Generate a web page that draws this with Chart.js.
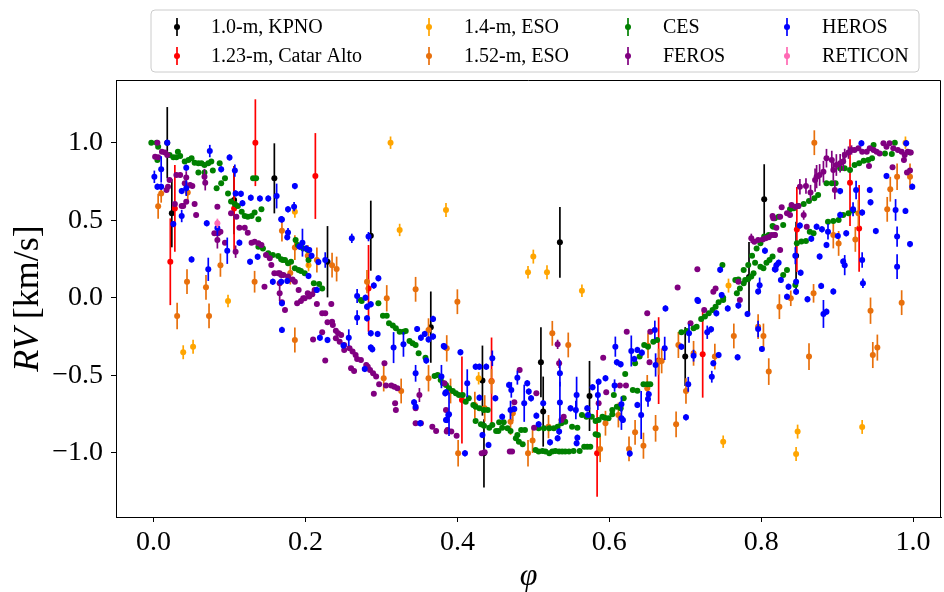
<!DOCTYPE html>
<html>
<head>
<meta charset="utf-8">
<script src="https://cdn.jsdelivr.net/npm/chart.js@4.4.1/dist/chart.umd.min.js"></script>
<style>
  html, body { margin: 0; padding: 0; background: #fff; }
  canvas { display: block; }
</style>
</head>
<body>
<canvas id="chart" width="944" height="592"></canvas>
<script>
// radial velocity vs orbital phase, one array per instrument: [phase, rv, error]
const kpno = [
  [0.018, 1.0, 0.23], [0.024, 0.545, 0.22], [0.106, 0.63, 0.22], [0.159, 0.77, 0.226],
  [0.229, 0.232, 0.23], [0.286, 0.40, 0.226], [0.365, -0.19, 0.23], [0.433, -0.535, 0.226],
  [0.435, -1.004, 0.22], [0.510, -0.417, 0.226], [0.513, -0.735, 0.226], [0.535, 0.357, 0.228],
  [0.574, -0.634, 0.226], [0.700, -0.38, 0.19], [0.784, 0.133, 0.226], [0.804, 0.635, 0.226],
  [0.846, 0.27, 0.22]
];
const catarAlto = [
  [0.022, 0.232, 0.28], [0.028, 0.576, 0.28], [0.106, 0.576, 0.27], [0.134, 1.0, 0.28],
  [0.213, 0.785, 0.277], [0.283, 0.06, 0.28], [0.406, -0.66, 0.28], [0.445, -0.537, 0.28],
  [0.584, -1.004, 0.28], [0.665, -0.406, 0.28], [0.723, -0.365, 0.28], [0.847, 0.44, 0.274],
  [0.917, 0.742, 0.28], [0.929, 0.447, 0.28]
];
const eso14 = [
  [0.039, -0.352, 0.045], [0.052, -0.316, 0.045], [0.098, -0.021, 0.04], [0.186, 0.555, 0.04],
  [0.204, 0.21, 0.04], [0.312, 1.0, 0.04], [0.324, 0.437, 0.04], [0.385, 0.566, 0.045],
  [0.428, -0.52, 0.04], [0.493, 0.164, 0.04], [0.500, 0.265, 0.045], [0.518, 0.164, 0.045],
  [0.564, 0.045, 0.04], [0.757, 0.078, 0.045], [0.750, -0.929, 0.04], [0.848, -0.864, 0.045],
  [0.846, -1.008, 0.045], [0.933, -0.834, 0.045], [0.990, 1.0, 0.04]
];
const eso152 = [
  [0.006, 0.59, 0.08], [0.010, 0.673, 0.06], [0.045, 0.678, 0.05], [0.044, 0.103, 0.08],
  [0.069, 0.067, 0.08], [0.088, 0.21, 0.075], [0.133, 0.103, 0.07], [0.169, 0.432, 0.07],
  [0.186, 0.323, 0.08], [0.203, 0.27, 0.07], [0.215, 0.243, 0.08], [0.235, 0.21, 0.08],
  [0.241, 0.185, 0.08], [0.180, 0.16, 0.075], [0.281, 0.103, 0.075], [0.307, -0.004, 0.085],
  [0.345, 0.054, 0.08], [0.031, -0.118, 0.085], [0.073, -0.118, 0.08], [0.186, -0.273, 0.08],
  [0.303, -0.52, 0.085], [0.326, -0.602, 0.08], [0.362, -0.208, 0.075], [0.362, -0.52, 0.085],
  [0.386, -0.327, 0.085], [0.400, -0.026, 0.08], [0.401, -1.004, 0.085], [0.391, -0.602, 0.08],
  [0.423, -0.692, 0.085], [0.436, -0.714, 0.085], [0.445, -0.54, 0.08], [0.470, -0.8, 0.085],
  [0.473, -0.746, 0.05], [0.493, -1.004, 0.085], [0.499, -0.922, 0.08], [0.520, -0.832, 0.075],
  [0.525, -0.23, 0.08], [0.546, -0.305, 0.08], [0.588, -0.976, 0.085], [0.595, -0.81, 0.08],
  [0.612, -0.757, 0.08], [0.626, -0.976, 0.08], [0.634, -0.869, 0.08], [0.645, -0.955, 0.084],
  [0.661, -0.843, 0.086], [0.688, -0.817, 0.083], [0.701, -0.602, 0.083], [0.665, -0.413, 0.084],
  [0.669, -0.408, 0.08], [0.651, -0.31, 0.08], [0.691, -0.305, 0.084], [0.711, -0.359, 0.08],
  [0.739, -0.38, 0.083], [0.764, -0.247, 0.08], [0.803, -0.247, 0.08], [0.796, -0.187, 0.08],
  [0.810, -0.477, 0.086], [0.650, -0.585, 0.086], [0.824, -0.058, 0.08], [0.839, -0.004, 0.05],
  [0.863, -0.38, 0.086], [0.944, -0.084, 0.085], [0.985, -0.032, 0.08], [0.947, -0.37, 0.084],
  [0.953, -0.322, 0.084], [0.870, 1.0, 0.08], [0.895, 0.404, 0.086], [0.902, 0.35, 0.08],
  [0.924, 0.376, 0.08], [0.928, 0.544, 0.086], [0.970, 0.70, 0.08], [0.966, 0.57, 0.08],
  [0.979, 0.78, 0.086], [0.996, 0.78, 0.086], [0.869, 0.028, 0.06]
];
const ces = [
  [-0.003, 1.0], [0.004, 1.0], [0.006, 0.974], [0.005, 0.888], [0.021, 0.921], [0.026, 0.906],
  [0.030, 0.906], [0.035, 0.914], [0.032, 0.942], [0.041, 0.878], [0.046, 0.888], [0.050, 0.899],
  [0.054, 0.871], [0.059, 0.867], [0.063, 0.867], [0.067, 0.856], [0.072, 0.867], [0.076, 0.878],
  [0.059, 0.807], [0.067, 0.807], [0.078, 0.82], [0.087, 0.867], [0.083, 0.706], [0.089, 0.738],
  [0.094, 0.77], [0.098, 0.673], [0.102, 0.62], [0.107, 0.605], [0.111, 0.592], [0.116, 0.555],
  [0.120, 0.527], [0.124, 0.523], [0.129, 0.527], [0.133, 0.549], [0.138, 0.506], [0.142, 0.57],
  [0.131, 0.77], [0.135, 0.77], [0.138, 0.329], [0.144, 0.318], [0.151, 0.286], [0.157, 0.275],
  [0.164, 0.269], [0.170, 0.243], [0.168, 0.248], [0.173, 0.243], [0.177, 0.222], [0.181, 0.232],
  [0.187, 0.372], [0.190, 0.34], [0.194, 0.329], [0.197, 0.318], [0.203, 0.308], [0.204, 0.243],
  [0.186, 0.19], [0.191, 0.179], [0.194, 0.172], [0.199, 0.157], [0.211, 0.093], [0.218, 0.088],
  [0.222, 0.06], [0.273, -0.015], [0.274, -0.021], [0.296, -0.036], [0.302, -0.116], [0.307, -0.116],
  [0.310, -0.165], [0.315, -0.18], [0.319, -0.198], [0.324, -0.219], [0.329, -0.219], [0.332, -0.215],
  [0.337, -0.279], [0.341, -0.294], [0.345, -0.305], [0.349, -0.359], [0.358, -0.387], [0.370, -0.505],
  [0.374, -0.499], [0.378, -0.531], [0.381, -0.552], [0.385, -0.563], [0.389, -0.585], [0.394, -0.602],
  [0.398, -0.617], [0.402, -0.628], [0.407, -0.628], [0.411, -0.671], [0.415, -0.649], [0.421, -0.692],
  [0.424, -0.703], [0.429, -0.714], [0.435, -0.725], [0.440, -0.725], [0.424, -0.795], [0.431, -0.817],
  [0.435, -0.826], [0.442, -0.839], [0.446, -0.821], [0.451, -0.86], [0.454, -0.86], [0.459, -0.839],
  [0.455, -0.804], [0.461, -0.804], [0.466, -0.843], [0.470, -0.86], [0.477, -0.907], [0.481, -0.929],
  [0.486, -0.946], [0.484, -0.854], [0.489, -0.854], [0.479, -0.886], [0.503, -0.982], [0.507, -0.993],
  [0.512, -0.989], [0.516, -0.993], [0.521, -1.004], [0.525, -0.993], [0.529, -0.989], [0.534, -0.993],
  [0.538, -0.993], [0.542, -0.993], [0.547, -0.993], [0.553, -0.989], [0.561, -0.989], [0.567, -0.961],
  [0.571, -0.961], [0.575, -0.961], [0.507, -0.843], [0.514, -0.843], [0.521, -0.843], [0.527, -0.843],
  [0.532, -0.832], [0.537, -0.81], [0.542, -0.8], [0.551, -0.832], [0.558, -0.839], [0.564, -0.757],
  [0.570, -0.768], [0.577, -0.768], [0.582, -0.795], [0.586, -0.789], [0.591, -0.768], [0.594, -0.774],
  [0.599, -0.778], [0.604, -0.725], [0.582, -0.881], [0.585, -0.886], [0.604, -0.752], [0.606, -0.628],
  [0.610, -0.703], [0.615, -0.714], [0.619, -0.649], [0.621, -0.492], [0.631, -0.595], [0.637, -0.6],
  [0.634, -0.423], [0.640, -0.38], [0.646, -0.305], [0.651, -0.316], [0.658, -0.284], [0.663, -0.273],
  [0.645, -0.559], [0.650, -0.559], [0.654, -0.559], [0.695, -0.223], [0.702, -0.215], [0.711, -0.198],
  [0.715, -0.187], [0.721, -0.137], [0.726, -0.122], [0.731, -0.101], [0.736, -0.079], [0.740, -0.058],
  [0.744, -0.03], [0.750, -0.015], [0.750, 0.0], [0.768, 0.028], [0.772, 0.06], [0.766, 0.114],
  [0.770, 0.118], [0.777, 0.093], [0.779, 0.114], [0.783, 0.121], [0.787, 0.136], [0.790, 0.157],
  [0.749, 0.211], [0.777, 0.179], [0.783, 0.211], [0.792, 0.226], [0.799, 0.2], [0.803, 0.19],
  [0.807, 0.226], [0.811, 0.243], [0.815, 0.265], [0.788, 0.271], [0.794, 0.318], [0.799, 0.351],
  [0.804, 0.394], [0.810, 0.405], [0.815, 0.462], [0.818, 0.512], [0.816, 0.458], [0.823, 0.523],
  [0.829, 0.469], [0.838, 0.57], [0.843, 0.577], [0.849, 0.592], [0.856, 0.604], [0.863, 0.624],
  [0.870, 0.641], [0.875, 0.663], [0.864, 0.426], [0.869, 0.415], [0.888, 0.49], [0.895, 0.495],
  [0.902, 0.501], [0.908, 0.534], [0.915, 0.544], [0.921, 0.562], [0.847, 0.351], [0.853, 0.362],
  [0.859, 0.366], [0.834, 0.179], [0.829, 0.146], [0.845, 0.082], [0.886, 0.738], [0.893, 0.738],
  [0.898, 0.738], [0.904, 0.835], [0.910, 0.835], [0.917, 0.824], [0.923, 0.856], [0.929, 0.867],
  [0.935, 0.884], [0.941, 0.888], [0.946, 0.899], [0.948, 0.985], [0.963, 0.931], [0.972, 0.927],
  [0.976, 1.0], [0.996, 0.936]
];
const feros = [
  [0.005, 1.0], [0.002, 0.91], [0.006, 0.906], [0.011, 0.942], [0.015, 0.936], [0.018, 0.921],
  [0.021, 0.759], [0.019, 0.716], [0.017, 0.695], [0.030, 0.792], [0.035, 0.792], [0.041, 0.738],
  [0.043, 0.776, 0.04], [0.048, 0.727], [0.051, 0.721], [0.043, 0.619], [0.039, 0.592], [0.028, 0.604],
  [0.037, 0.592], [0.054, 0.604], [0.056, 0.533], [0.067, 0.781, 0.05], [0.068, 0.742, 0.05], [0.080, 0.415],
  [0.085, 0.415], [0.088, 0.426], [0.084, 0.372, 0.055], [0.084, 0.587], [0.094, 0.355], [0.102, 0.544],
  [0.109, 0.523], [0.108, 0.297, 0.04], [0.113, 0.452], [0.120, 0.452], [0.124, 0.419], [0.129, 0.355],
  [0.133, 0.361], [0.138, 0.351], [0.142, 0.34], [0.148, 0.275], [0.153, 0.254], [0.155, 0.211],
  [0.159, 0.157], [0.164, 0.157], [0.168, 0.146], [0.166, 0.028, 0.05], [0.146, 0.071], [0.166, 0.157],
  [0.171, 0.146], [0.177, 0.136], [0.183, 0.118], [0.186, 0.103], [0.166, 0.093], [0.191, 0.05],
  [0.197, -0.004], [0.203, 0.028], [0.209, 0.022], [0.212, 0.05], [0.173, -0.079], [0.169, -0.03],
  [0.189, -0.036], [0.194, -0.021], [0.199, -0.004], [0.205, 0.007], [0.215, -0.041], [0.222, -0.101],
  [0.226, -0.101], [0.234, -0.041], [0.229, -0.159], [0.235, -0.155], [0.236, -0.176], [0.222, -0.223],
  [0.210, -0.269], [0.226, -0.406], [0.240, -0.213], [0.243, -0.23], [0.247, -0.241], [0.240, -0.262],
  [0.245, -0.284], [0.251, -0.305], [0.251, -0.337], [0.258, -0.327], [0.262, -0.348], [0.266, -0.37],
  [0.268, -0.395], [0.273, -0.402], [0.280, -0.434], [0.282, -0.445], [0.285, -0.466], [0.289, -0.488],
  [0.293, -0.509], [0.260, -0.456], [0.264, -0.473], [0.297, -0.559], [0.290, -0.619], [0.306, -0.567],
  [0.313, -0.567], [0.317, -0.574], [0.321, -0.585], [0.318, -0.681], [0.319, -0.724], [0.304, -0.423],
  [0.350, -0.628, 0.045], [0.345, -0.714], [0.345, -0.81], [0.352, -0.81], [0.367, -0.832], [0.372, -0.86],
  [0.385, -0.725], [0.386, -0.864], [0.387, -0.853], [0.392, -0.864], [0.399, -0.89], [0.432, -1.004],
  [0.436, -0.998], [0.469, -0.993], [0.472, -0.993], [0.475, -0.675], [0.482, -0.466], [0.501, -0.839],
  [0.504, -0.617], [0.532, -0.301, 0.03], [0.534, -0.423, 0.03], [0.540, -0.768], [0.537, -0.789], [0.592, -0.387],
  [0.596, -0.61], [0.586, -0.681], [0.383, -0.552], [0.650, -0.101], [0.623, -0.219], [0.654, -0.219],
  [0.653, -0.417], [0.614, -0.567], [0.622, -0.567], [0.707, -0.165], [0.725, -0.079], [0.772, -0.015],
  [0.716, 0.183], [0.690, 0.065], [0.737, 0.039], [0.740, 0.06], [0.770, 0.103], [0.815, 0.527],
  [0.820, 0.452], [0.787, 0.383, 0.03], [0.791, 0.361], [0.796, 0.372], [0.802, 0.376], [0.806, 0.383],
  [0.810, 0.39], [0.814, 0.404], [0.818, 0.404], [0.816, 0.512], [0.825, 0.523], [0.834, 0.544],
  [0.838, 0.533], [0.827, 0.583], [0.840, 0.598], [0.845, 0.587], [0.849, 0.592], [0.851, 0.716, 0.05],
  [0.859, 0.721, 0.05], [0.856, 0.533, 0.03], [0.865, 0.678, 0.05], [0.871, 0.759, 0.075], [0.873, 0.781, 0.075], [0.877, 0.792, 0.07],
  [0.882, 0.813, 0.07], [0.886, 0.9, 0.06], [0.893, 0.888, 0.06], [0.895, 0.824, 0.07], [0.899, 0.856, 0.07], [0.904, 0.867, 0.06],
  [0.908, 0.878, 0.06], [0.910, 0.921, 0.04], [0.915, 0.936, 0.04], [0.919, 0.953, 0.03], [0.923, 0.953], [0.928, 0.964],
  [0.933, 0.942], [0.939, 0.942], [0.943, 0.964], [0.948, 0.953], [0.952, 0.942], [0.956, 0.931],
  [0.961, 0.996], [0.965, 0.974], [0.969, 0.996], [0.974, 0.964], [0.980, 0.953], [0.985, 0.942],
  [0.989, 0.921], [0.993, 0.942], [0.997, 0.936], [0.988, 0.888], [0.992, 0.807], [0.996, 0.82],
  [0.973, 0.841], [0.942, 0.85], [0.897, 0.695, 0.06], [0.860, 0.458], [0.825, 0.308], [0.818, 0.404]
];
const heros = [
  [0.018, 1.0], [0.001, 0.78, 0.04], [0.010, 0.828, 0.085], [0.005, 0.716], [0.010, 0.716], [0.026, 0.475],
  [0.037, 0.527, 0.04], [0.043, 0.839], [0.043, 0.706, 0.05], [0.037, 0.688], [0.050, 0.247], [0.072, 0.183, 0.075],
  [0.074, 0.946, 0.04], [0.084, 0.45, 0.05], [0.070, 0.48], [0.100, 0.905], [0.089, 0.828], [0.107, 0.82, 0.04],
  [0.108, 0.673], [0.115, 0.67], [0.117, 0.61], [0.097, 0.303, 0.085], [0.113, 0.355], [0.128, 0.645],
  [0.140, 0.64], [0.151, 0.64], [0.162, 0.656, 0.08], [0.127, 0.232], [0.137, 0.264], [0.157, 0.103],
  [0.168, 0.506], [0.168, 0.103], [0.186, 0.72], [0.177, 0.57], [0.185, 0.587, 0.03], [0.169, 0.505],
  [0.177, 0.42, 0.03], [0.176, 0.39], [0.196, 0.355, 0.09], [0.192, 0.33], [0.201, 0.318], [0.205, 0.307],
  [0.208, 0.27], [0.217, 0.23], [0.226, 0.243, 0.05], [0.204, 0.14], [0.176, 0.108], [0.215, 0.05],
  [0.261, 0.383, 0.03], [0.283, 0.394, 0.03], [0.296, 0.125], [0.290, 0.078], [0.268, 0.011, 0.045], [0.279, 0.0],
  [0.169, -0.036], [0.169, -0.208], [0.219, -0.258], [0.229, -0.273], [0.250, -0.309], [0.257, -0.258, 0.054],
  [0.268, -0.129, 0.048], [0.281, -0.058], [0.286, -0.043], [0.281, -0.133], [0.286, -0.23], [0.295, -0.234],
  [0.286, -0.322], [0.288, -0.333], [0.278, -0.46], [0.316, -0.322, 0.1], [0.329, -0.301, 0.08], [0.345, -0.488, 0.054],
  [0.347, -0.202], [0.352, -0.258], [0.357, -0.234], [0.362, -0.269], [0.368, -0.137], [0.368, -0.251],
  [0.359, -0.406], [0.382, -0.312], [0.379, -0.509, 0.075], [0.384, -0.617], [0.343, -0.675], [0.345, -0.703],
  [0.351, -0.81], [0.385, -0.789], [0.388, -0.757], [0.383, -0.316], [0.404, -0.352], [0.413, -0.552, 0.09],
  [0.385, -0.61], [0.389, -0.752, 0.14], [0.386, -0.789], [0.410, -1.004], [0.424, -0.445], [0.429, -0.445],
  [0.438, -0.445], [0.429, -0.645], [0.446, -0.391, 0.05], [0.450, -0.649], [0.433, -0.886], [0.441, -0.95],
  [0.459, -0.768], [0.468, -0.563], [0.471, -0.595, 0.05], [0.470, -0.725, 0.06], [0.475, -0.718], [0.479, -0.516, 0.045],
  [0.488, -0.681, 0.12], [0.492, -0.552], [0.494, -0.606], [0.497, -0.649], [0.504, -0.761], [0.507, -0.817],
  [0.513, -0.681], [0.522, -0.933], [0.535, -0.488, 0.085], [0.535, -0.677, 0.135], [0.534, -0.864], [0.532, -0.907],
  [0.557, -0.628, 0.118], [0.556, -0.725, 0.06], [0.549, -0.714], [0.558, -0.903], [0.557, -0.939], [0.571, -0.714],
  [0.572, -0.757], [0.578, -0.578], [0.586, -0.542], [0.595, -0.52], [0.585, -0.628, 0.097], [0.717, -0.021],
  [0.674, -0.069], [0.608, -0.316, 0.065], [0.610, -0.417], [0.615, -0.43], [0.629, -0.344, 0.1], [0.633, -0.395],
  [0.637, -0.337], [0.643, -0.355], [0.660, -0.208, 0.06], [0.673, -0.327, 0.075], [0.661, -0.434, 0.075], [0.607, -0.567, 0.04],
  [0.616, -0.688, 0.05], [0.637, -0.692], [0.642, -0.757, 0.155], [0.651, -0.653, 0.05], [0.652, -0.623], [0.616, -0.778, 0.075],
  [0.618, -0.789], [0.627, -1.006], [0.695, -0.316], [0.705, -0.23, 0.06], [0.704, -0.559, 0.048], [0.701, -0.772],
  [0.711, -0.374, 0.038], [0.729, -0.223, 0.043], [0.735, -0.51, 0.038], [0.737, -0.423], [0.744, -0.37], [0.734, -0.204],
  [0.741, -0.101], [0.756, -0.069], [0.770, -0.051], [0.782, -0.105], [0.796, -0.202, 0.054], [0.801, -0.331],
  [0.769, -0.385], [0.805, 0.303], [0.746, 0.18], [0.819, 0.183], [0.798, 0.08, 0.05], [0.796, 0.04],
  [0.748, 0.017], [0.716, -0.015], [0.932, 0.996], [0.991, 0.996], [0.965, 0.785], [0.999, 0.716],
  [0.943, 0.695], [0.904, 0.688], [0.944, 0.615], [0.925, 0.695, 0.06], [0.921, 0.57, 0.045], [0.933, 0.549],
  [0.904, 0.534], [0.977, 0.566, 0.07], [0.990, 0.56], [0.951, 0.43], [0.979, 0.394, 0.065], [0.996, 0.346],
  [0.901, 0.398], [0.912, 0.415], [0.888, 0.426, 0.05], [0.886, 0.34], [0.873, 0.458], [0.880, 0.441],
  [0.851, 0.465], [0.866, 0.381], [0.877, 0.265], [0.908, 0.233], [0.910, 0.21, 0.065], [0.933, 0.243, 0.05],
  [0.979, 0.2, 0.08], [0.934, 0.093, 0.03], [0.879, 0.076], [0.895, 0.04], [0.861, -0.01], [0.845, 0.271, 0.055],
  [0.823, 0.226], [0.820, 0.21], [0.818, 0.183], [0.826, 0.114], [0.852, 0.161], [0.836, 0.071],
  [0.834, 0.006], [0.846, 0.103], [0.846, 0.039], [0.882, -0.105, 0.09], [0.886, -0.09]
];
const reticon = [
  [0.084, 0.48, 0.03]
];

const seriesNames = ['1.0-m, KPNO', '1.23-m, Catar Alto', '1.4-m, ESO', '1.52-m, ESO', 'CES', 'FEROS', 'HEROS', 'RETICON'];
const seriesData = [kpno, catarAlto, eso14, eso152, ces, feros, heros, reticon];
const seriesColors = ['#000000', '#ff0000', '#ffa500', '#e8700c', '#008000', '#800080', '#0000ff', '#ff69b4'];
const defaultErr = [0, 0, 0, 0, 0, 0.015, 0.02, 0];

const xTicks = [0.0, 0.2, 0.4, 0.6, 0.8, 1.0];
const yTicks = [-1.0, -0.5, 0.0, 0.5, 1.0];

const SERIF = '"Liberation Serif", "Times New Roman", serif';

const datasets = seriesData.map((rows, i) => ({
  label: seriesNames[i],
  data: rows.map(r => ({ x: r[0], y: r[1] })),
  errors: rows.map(r => (r.length > 2 ? r[2] : defaultErr[i])),
  backgroundColor: seriesColors[i],
  borderColor: seriesColors[i],
  pointRadius: 3,
  pointBorderWidth: 0,
  pointHoverRadius: 3,
  showLine: false,
  order: seriesData.length - i   // later instruments on top
}));

// vertical error bars, drawn right before each dataset's markers
const errorBars = {
  id: 'errorBars',
  beforeDatasetDraw(chart, args) {
    const ds = chart.data.datasets[args.index];
    const { ctx, chartArea, scales: { x, y } } = chart;
    ctx.save();
    ctx.beginPath();
    ctx.rect(chartArea.left, chartArea.top, chartArea.width, chartArea.height);
    ctx.clip();
    ctx.strokeStyle = ds.borderColor;
    ctx.lineWidth = 1.7;
    ds.data.forEach((p, k) => {
      const e = ds.errors[k];
      if (!e) return;
      const px = x.getPixelForValue(p.x);
      ctx.beginPath();
      ctx.moveTo(px, y.getPixelForValue(p.y - e));
      ctx.lineTo(px, y.getPixelForValue(p.y + e));
      ctx.stroke();
    });
    ctx.restore();
  }
};

// frame, axis titles and the four-column legend
const decorations = {
  id: 'decorations',
  afterDraw(chart) {
    const { ctx, chartArea: a } = chart;
    ctx.save();
    ctx.strokeStyle = '#000';
    ctx.lineWidth = 1;
    ctx.beginPath();
    ctx.moveTo(a.left, a.top + 0.5);
    ctx.lineTo(a.right - 0.5, a.top + 0.5);
    ctx.lineTo(a.right - 0.5, a.bottom);
    ctx.stroke();

    // y title: italic RV + units
    ctx.fillStyle = '#000';
    ctx.textBaseline = 'middle';
    ctx.save();
    ctx.translate(29, (a.top + a.bottom) / 2);
    ctx.rotate(-Math.PI / 2);
    const it = 'italic 36px ' + SERIF, rm = '36px ' + SERIF;
    ctx.font = it; const w1 = ctx.measureText('RV').width;
    ctx.font = rm; const w2 = ctx.measureText(' [km/s]').width;
    const x0 = -(w1 + w2) / 2;
    ctx.font = it; ctx.fillText('RV', x0, 0);
    ctx.font = rm; ctx.fillText(' [km/s]', x0 + w1, 0);
    ctx.restore();

    // x title
    ctx.font = 'italic 32px ' + SERIF;
    ctx.textAlign = 'center';
    ctx.fillText('φ', (a.left + a.right) / 2, 577);

    // legend box
    const bx = 151, by = 10, bw = 768, bh = 62, r = 4;
    ctx.beginPath();
    ctx.moveTo(bx + r, by);
    ctx.arcTo(bx + bw, by, bx + bw, by + bh, r);
    ctx.arcTo(bx + bw, by + bh, bx, by + bh, r);
    ctx.arcTo(bx, by + bh, bx, by, r);
    ctx.arcTo(bx, by, bx + bw, by, r);
    ctx.closePath();
    ctx.fillStyle = 'rgba(255,255,255,0.8)';
    ctx.fill();
    ctx.strokeStyle = '#cccccc';
    ctx.stroke();

    const colMarker = [177, 429, 628, 787];
    const colText = [211, 464, 663, 822];
    const rowY = [27, 56];
    ctx.font = '20px ' + SERIF;
    ctx.textAlign = 'left';
    ctx.textBaseline = 'middle';
    seriesNames.forEach((name, i) => {
      const c = Math.floor(i / 2), rr = i % 2;
      const mx = colMarker[c], my = rowY[rr];
      ctx.strokeStyle = seriesColors[i];
      ctx.lineWidth = 1.7;
      ctx.beginPath();
      ctx.moveTo(mx, my - 9);
      ctx.lineTo(mx, my + 9);
      ctx.stroke();
      ctx.fillStyle = seriesColors[i];
      ctx.beginPath();
      ctx.arc(mx, my, 3, 0, Math.PI * 2);
      ctx.fill();
      ctx.fillStyle = '#000';
      ctx.fillText(name, colText[c], my + 1);
    });
    ctx.restore();
  }
};

const tickFmt = v => v.toFixed(1).replace('-', '\u2212');

new Chart(document.getElementById('chart').getContext('2d'), {
  type: 'scatter',
  data: { datasets },
  options: {
    responsive: false,
    animation: false,
    events: [],
    layout: { padding: { top: 80, right: 1, left: 0, bottom: 0 } },
    plugins: { legend: { display: false }, tooltip: { enabled: false } },
    scales: {
      x: {
        type: 'linear',
        min: -0.0495,
        max: 1.0368,
        afterBuildTicks: s => { s.ticks = xTicks.map(v => ({ value: v })); },
        afterFit: s => { s.height = 75; },
        grid: { drawOnChartArea: false, drawTicks: true, tickLength: 5, color: '#000', lineWidth: 1 },
        border: { display: true, color: '#000', width: 1 },
        ticks: { callback: tickFmt, color: '#000', font: { family: SERIF, size: 28 }, padding: 4, maxRotation: 0 }
      },
      y: {
        type: 'linear',
        min: -1.415,
        max: 1.4045,
        afterBuildTicks: s => { s.ticks = yTicks.map(v => ({ value: v })); },
        afterFit: s => { s.width = 116; },
        grid: { drawOnChartArea: false, drawTicks: true, tickLength: 5, color: '#000', lineWidth: 1 },
        border: { display: true, color: '#000', width: 1 },
        ticks: { callback: tickFmt, color: '#000', font: { family: SERIF, size: 28 }, padding: 8 }
      }
    }
  },
  plugins: [errorBars, decorations]
});
</script>
</body>
</html>
